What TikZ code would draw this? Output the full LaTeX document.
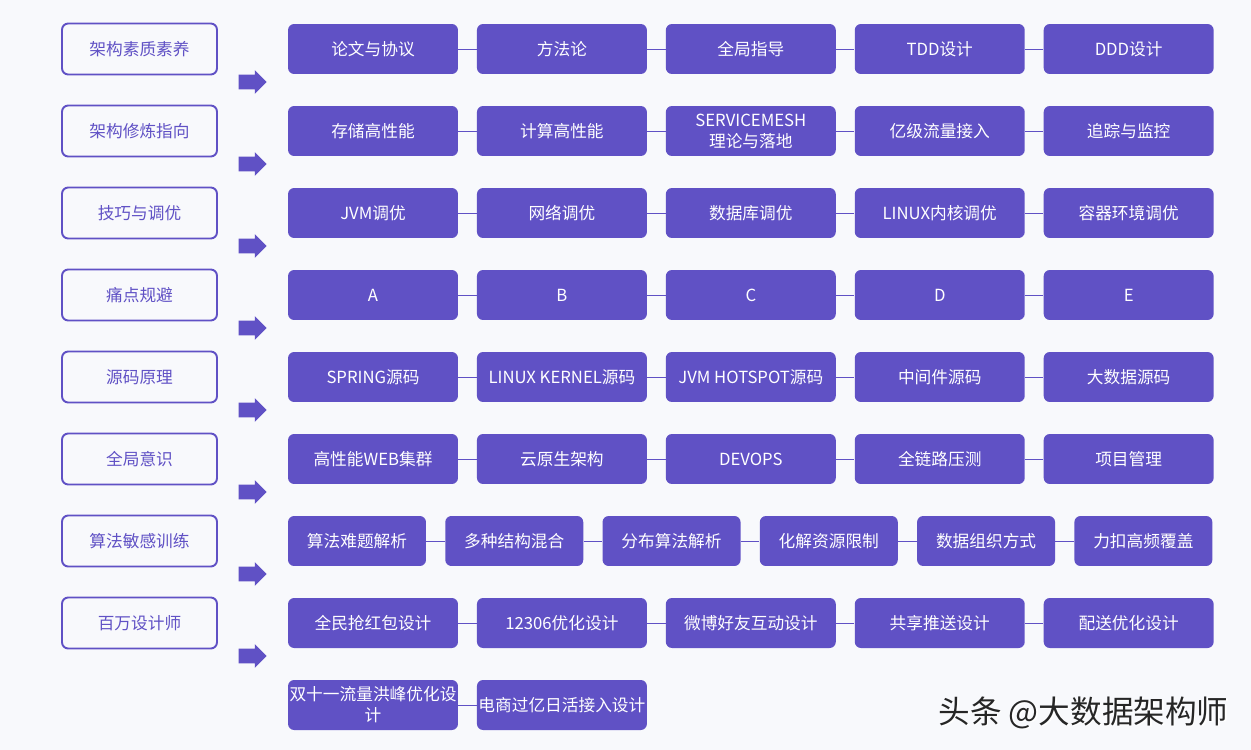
\documentclass[tikz,border=0pt]{standalone}
\usepackage{fontspec}
\setmainfont{Noto Sans CJK SC}
\usetikzlibrary{positioning,shapes.arrows}
\definecolor{skillpurple}{HTML}{6051C5}
\definecolor{pagebg}{HTML}{F8F9FC}
\tikzset{
  % Category box on the left: outline only, purple text
  catbox/.style={draw=skillpurple, line width=1.1pt, rounded corners=3.5pt,
                 minimum width=3.1cm, minimum height=1.02cm, inner sep=0pt,
                 text=skillpurple, font=\fontsize{9.5}{12}\selectfont},
  % Topic box: filled, white text
  topic/.style={fill=skillpurple, rounded corners=3.5pt, minimum width=3.4cm,
                minimum height=1.0cm, inner sep=0pt, align=center,
                text=white, font=\fontsize{9.5}{12}\selectfont},
  topic-narrow/.style={topic, minimum width=2.76cm},
  % Thin line joining topics of one row
  link/.style={draw=skillpurple, line width=0.5pt},
  % Block arrow between the columns
  rowarr/.style={single arrow, fill=skillpurple, draw=none,
                 inner xsep=0pt, inner ysep=0.14cm,
                 minimum height=0.56cm, single arrow head extend=0.09cm},
  stamp/.style={font=\fontsize{18}{21}\selectfont, inner sep=0pt}
}

\begin{document}
\begin{tikzpicture}[x=0.02cm, y=-0.02cm, node distance=0.365cm]

\fill[pagebg] (0,0) rectangle (1251,750);
\useasboundingbox (0,0) rectangle (1251,750);

% ============== LEFT: categories ==============
\node[catbox] (c1) at (139.5,49) {架构素质素养};
\node[catbox] (c2) at (139.5,131) {架构修炼指向};
\node[catbox] (c3) at (139.5,213) {技巧与调优};
\node[catbox] (c4) at (139.5,295) {痛点规避};
\node[catbox] (c5) at (139.5,377) {源码原理};
\node[catbox] (c6) at (139.5,459) {全局意识};
\node[catbox] (c7) at (139.5,541) {算法敏感训练};
\node[catbox] (c8) at (139.5,623) {百万设计师};

% ============== Arrows ==============
\node[rowarr] (a1) at (249,82) {};
\node[rowarr] (a2) at (249,164) {};
\node[rowarr] (a3) at (249,246) {};
\node[rowarr] (a4) at (249,328) {};
\node[rowarr] (a5) at (249,410) {};
\node[rowarr] (a6) at (249,492) {};
\node[rowarr] (a7) at (249,574) {};
\node[rowarr] (a8) at (249,656) {};

% ============== RIGHT: topics ==============
% row 1
\node[topic] (t11) at (373,49) {论文与协议};
\node[topic, right=of t11] (t12) {方法论};
\node[topic, right=of t12] (t13) {全局指导};
\node[topic, right=of t13] (t14) {TDD设计};
\node[topic, right=of t14] (t15) {DDD设计};
\draw[link] (t11) -- (t12) (t12) -- (t13) (t13) -- (t14) (t14) -- (t15);

% row 2
\node[topic] (t21) at (373,131) {存储高性能};
\node[topic, right=of t21] (t22) {计算高性能};
\node[topic, right=of t22] (t23) {SERVICEMESH\\理论与落地};
\node[topic, right=of t23] (t24) {亿级流量接入};
\node[topic, right=of t24] (t25) {追踪与监控};
\draw[link] (t21) -- (t22) (t22) -- (t23) (t23) -- (t24) (t24) -- (t25);

% row 3
\node[topic] (t31) at (373,213) {JVM调优};
\node[topic, right=of t31] (t32) {网络调优};
\node[topic, right=of t32] (t33) {数据库调优};
\node[topic, right=of t33] (t34) {LINUX内核调优};
\node[topic, right=of t34] (t35) {容器环境调优};
\draw[link] (t31) -- (t32) (t32) -- (t33) (t33) -- (t34) (t34) -- (t35);

% row 4
\node[topic] (t41) at (373,295) {A};
\node[topic, right=of t41] (t42) {B};
\node[topic, right=of t42] (t43) {C};
\node[topic, right=of t43] (t44) {D};
\node[topic, right=of t44] (t45) {E};
\draw[link] (t41) -- (t42) (t42) -- (t43) (t43) -- (t44) (t44) -- (t45);

% row 5
\node[topic] (t51) at (373,377) {SPRING源码};
\node[topic, right=of t51] (t52) {LINUX KERNEL源码};
\node[topic, right=of t52] (t53) {JVM HOTSPOT源码};
\node[topic, right=of t53] (t54) {中间件源码};
\node[topic, right=of t54] (t55) {大数据源码};
\draw[link] (t51) -- (t52) (t52) -- (t53) (t53) -- (t54) (t54) -- (t55);

% row 6
\node[topic] (t61) at (373,459) {高性能WEB集群};
\node[topic, right=of t61] (t62) {云原生架构};
\node[topic, right=of t62] (t63) {DEVOPS};
\node[topic, right=of t63] (t64) {全链路压测};
\node[topic, right=of t64] (t65) {项目管理};
\draw[link] (t61) -- (t62) (t62) -- (t63) (t63) -- (t64) (t64) -- (t65);

% row 7: six narrower boxes
\node[topic-narrow] (t71) at (357,541) {算法难题解析};
\node[topic-narrow, right=0.372cm of t71] (t72) {多种结构混合};
\node[topic-narrow, right=0.372cm of t72] (t73) {分布算法解析};
\node[topic-narrow, right=0.372cm of t73] (t74) {化解资源限制};
\node[topic-narrow, right=0.372cm of t74] (t75) {数据组织方式};
\node[topic-narrow, right=0.372cm of t75] (t76) {力扣高频覆盖};
\draw[link] (t71) -- (t72) (t72) -- (t73) (t73) -- (t74) (t74) -- (t75) (t75) -- (t76);

% row 8
\node[topic] (t81) at (373,623) {全民抢红包设计};
\node[topic, right=of t81] (t82) {12306优化设计};
\node[topic, right=of t82] (t83) {微博好友互动设计};
\node[topic, right=of t83] (t84) {共享推送设计};
\node[topic, right=of t84] (t85) {配送优化设计};
\draw[link] (t81) -- (t82) (t82) -- (t83) (t83) -- (t84) (t84) -- (t85);

% row 9
\node[topic] (t91) at (373,705) {双十一流量洪峰优化设\\计};
\node[topic, right=of t91] (t92) {电商过亿日活接入设计};
\draw[link] (t91) -- (t92);

% ============== Stamp ==============
\node[stamp, text=white] (wm0) at (1085,714) {头条 @大数据架构师};
\node[stamp, text=black!85] (wm) at (1083.5,712.5) {头条 @大数据架构师};

\end{tikzpicture}
\end{document}
